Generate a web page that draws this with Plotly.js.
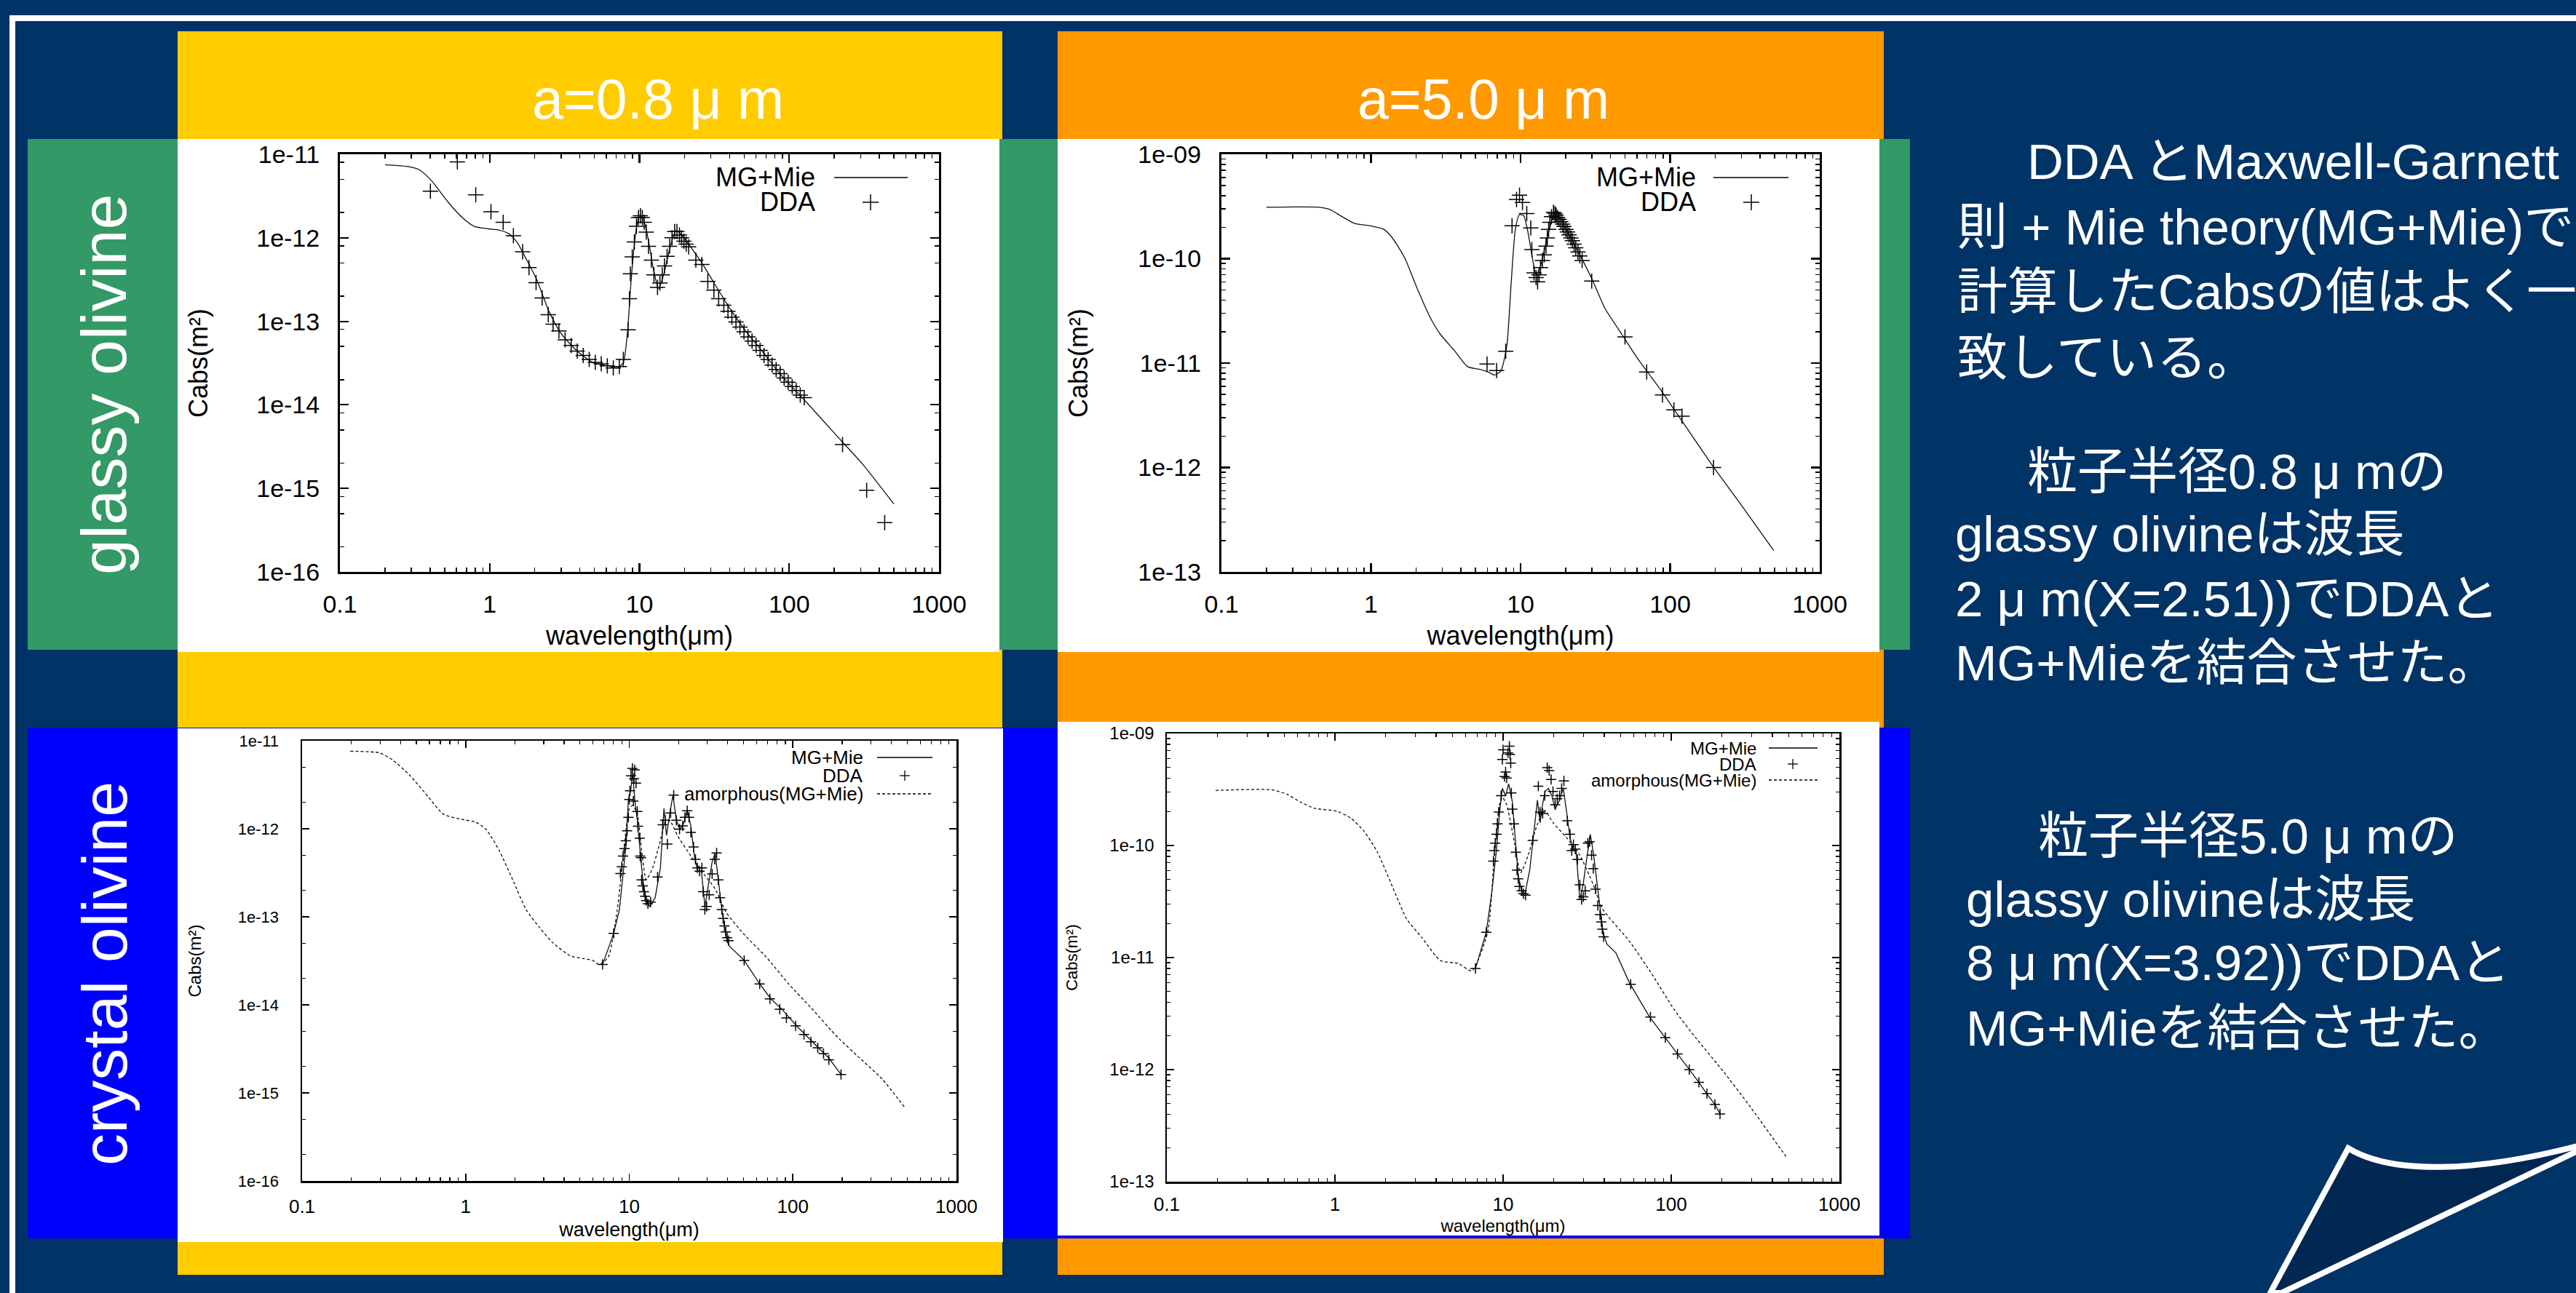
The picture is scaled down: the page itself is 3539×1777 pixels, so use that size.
<!DOCTYPE html>
<html><head><meta charset="utf-8">
<script src="https://cdn.plot.ly/plotly-3.0.1.min.js"></script>
<style>html,body{margin:0;padding:0;background:#003366;overflow:hidden}</style>
</head><body><div id="chart" style="width:3539px;height:1777px"></div>
<script>
// ---------- tick labels ----------
const xMajorVals = [0.1, 1, 10, 100, 1000];
const xMajorText = ['0.1', '1', '10', '100', '1000'];
const xMinorVals = [0.2,0.3,0.4,0.5,0.6,0.7,0.8,0.9,2,3,4,5,6,7,8,9,20,30,40,50,60,70,80,90,200,300,400,500,600,700,800,900];
const yMajorVals16 = [1e-16, 1e-15, 1e-14, 1e-13, 1e-12, 1e-11];
const yMajorText16 = ['1e-16', '1e-15', '1e-14', '1e-13', '1e-12', '1e-11'];
const yMajorVals13 = [1e-13, 1e-12, 1e-11, 1e-10, 1e-9];
const yMajorText13 = ['1e-13', '1e-12', '1e-11', '1e-10', '1e-09'];
const yMinorP1 = [2e-16,5e-16,8e-16,2e-15,5e-15,8e-15,2e-14,5e-14,8e-14,2e-13,5e-13,8e-13,2e-12,5e-12,8e-12];
const yMinorP3 = [2e-16,5e-16,2e-15,5e-15,2e-14,5e-14,2e-13,5e-13,2e-12,5e-12];
const yMinor13 = [2e-13,3e-13,4e-13,5e-13,6e-13,7e-13,8e-13,9e-13,2e-12,3e-12,4e-12,5e-12,6e-12,7e-12,8e-12,9e-12,2e-11,3e-11,4e-11,5e-11,6e-11,7e-11,8e-11,9e-11,2e-10,3e-10,4e-10,5e-10,6e-10,7e-10,8e-10,9e-10];
const xTitle = 'wavelength(\u03bcm)';
const yTitle = 'Cabs(m\u00b2)';

// ---------- glassy olivine, a = 0.8 um ----------
const g08MieWl = [0.2,0.29,0.34,0.41,0.53,0.66,0.79,0.98,1.15,1.34,1.52,1.77,2.07,2.49,3.0,3.84,4.9,6.3,7.1,7.8,8.3,8.8,9.4,10.0,10.6,11.3,12.4,13.4,14.5,15.9,17.5,19.1,21.7,26.1,31.4,40.2,51.4,65.9,89.7,130,200,309,500];
const g08MieC = [7.5e-12,7.1e-12,6.5e-12,4.8e-12,2.65e-12,1.73e-12,1.37e-12,1.28e-12,1.24e-12,1.12e-12,8.9e-13,5.4e-13,3.1e-13,1.31e-13,7.1e-14,4.4e-14,3.2e-14,2.9e-14,2.76e-14,3.2e-14,7.1e-14,3.1e-13,1.08e-12,1.84e-12,1.66e-12,1.08e-12,4.2e-13,2.45e-13,3.6e-13,7.3e-13,1.22e-12,1.08e-12,8.0e-13,5.0e-13,2.9e-13,1.42e-13,7.6e-14,4.4e-14,2.2e-14,1.08e-14,4.6e-15,1.95e-15,6.5e-16];
const g08DdaWl = [0.402,0.608,0.807,1.02,1.23,1.44,1.66,1.83,2.04,2.24,2.46,2.65,2.90,3.19,3.50,3.84,4.21,4.62,5.07,5.56,6.10,6.69,7.34,7.81,8.4,8.57,8.7,8.95,9.25,9.55,9.85,10.15,10.45,10.75,11.1,11.5,12.0,12.5,13.2,13.7,14.2,14.7,15.3,15.9,16.5,17.2,17.8,18.5,19.1,19.8,20.5,21.3,23.8,26.1,28.6,31.4,33.8,36.6,39.0,41.4,44.1,46.9,49.9,53.1,56.5,60.1,63.9,67.9,72.3,76.9,81.8,87.0,92.5,98.4,104.7,111.4,118.5,126,227,329,434];
const g08DdaC = [3.62e-12,8.1e-12,3.27e-12,2.05e-12,1.53e-12,1.06e-12,6.8e-13,4.4e-13,2.9e-13,1.9e-13,1.2e-13,9.25e-14,7.7e-14,6.0e-14,5.15e-14,4.4e-14,3.9e-14,3.5e-14,3.23e-14,3.1e-14,2.94e-14,2.76e-14,2.87e-14,3.5e-14,7.9e-14,1.87e-13,3.7e-13,5.9e-13,8.9e-13,1.37e-12,1.75e-12,1.84e-12,1.75e-12,1.53e-12,1.17e-12,7.9e-13,5.4e-13,3.6e-13,2.55e-13,2.87e-13,3.6e-13,4.6e-13,6.0e-13,7.9e-13,1.0e-12,1.19e-12,1.19e-12,1.08e-12,1.0e-12,9.1e-13,8.4e-13,7.8e-13,5.4e-13,4.8e-13,3.0e-13,2.36e-13,1.87e-13,1.56e-13,1.32e-13,1.12e-13,9.8e-14,8.55e-14,7.5e-14,6.5e-14,5.8e-14,5.15e-14,4.5e-14,3.9e-14,3.5e-14,3.0e-14,2.65e-14,2.36e-14,2.1e-14,1.87e-14,1.66e-14,1.48e-14,1.31e-14,1.22e-14,3.35e-15,9.5e-16,3.9e-16];

// ---------- glassy olivine, a = 5.0 um ----------
const g50MieWl = [0.2,0.45,0.53,0.64,0.78,1.0,1.22,1.39,1.68,2.04,2.48,2.9,3.64,4.42,5.35,6.08,6.7,7.38,8.1,8.65,9.23,9.84,10.5,11.2,11.9,12.7,13.6,14.9,16.4,17.2,18.3,20.6,24.9,30.3,36.7,47.4,61.3,84.5,116,195,305,493];
const g50MieC = [3.11e-10,3.11e-10,2.96e-10,2.53e-10,2.17e-10,2.06e-10,1.91e-10,1.58e-10,1.02e-10,5.15e-11,2.76e-11,1.9e-11,1.3e-11,9.25e-12,8.7e-12,8.2e-12,7.7e-12,8.4e-12,1.48e-11,5.8e-11,1.91e-10,2.64e-10,2.58e-10,1.8e-10,1.09e-10,7.0e-11,8.5e-11,1.49e-10,2.45e-10,2.87e-10,2.45e-10,1.8e-10,1.09e-10,6.2e-11,3.33e-11,1.9e-11,1.08e-11,5.8e-12,3.0e-12,1.01e-12,4.2e-13,1.6e-13];
const g50DdaWl = [5.97,6.92,7.96,8.77,9.4,9.84,10.3,11.0,11.7,11.9,12.3,12.7,13.0,13.3,13.6,14.0,14.4,14.8,15.1,15.4,15.7,16.1,16.6,17.0,17.3,17.7,18.1,18.6,19.1,19.5,20.1,20.6,21.1,21.7,22.2,22.8,23.4,24.2,24.9,25.8,29.9,49.9,69.7,88.9,106,120,195];
const g50DdaC = [9.8e-12,8.5e-12,1.3e-11,2.07e-10,3.68e-10,4.05e-10,3.46e-10,2.7e-10,1.97e-10,1.22e-10,7.3e-11,6.6e-11,6.0e-11,7.0e-11,8.2e-11,9.6e-11,1.09e-10,1.32e-10,1.58e-10,1.91e-10,2.23e-10,2.53e-10,2.78e-10,2.7e-10,2.61e-10,2.48e-10,2.38e-10,2.26e-10,2.14e-10,2.03e-10,1.91e-10,1.8e-10,1.69e-10,1.58e-10,1.49e-10,1.38e-10,1.27e-10,1.16e-10,1.06e-10,9.6e-11,6.1e-11,1.78e-11,8.2e-12,4.95e-12,3.56e-12,3.1e-12,1.0e-12];

// ---------- crystal olivine, a = 0.8 um ----------
const c08AmoWl = [0.197,0.296,0.356,0.458,0.589,0.733,0.988,1.14,1.33,1.6,1.94,2.34,2.82,3.4,4.37,5.27,5.98,6.57,7.45,8.45,9.27,10.0,10.5,11.2,11.9,12.7,13.9,15.3,16.8,17.9,19.7,23.8,28.5,33.5,39.2,50.4,68.9,94.2,129,188,257,351,481];
const c08AmoC = [7.6e-12,7.3e-12,6.1e-12,4.0e-12,2.32e-12,1.46e-12,1.26e-12,1.2e-12,9.9e-13,5.7e-13,2.63e-13,1.21e-13,7.6e-14,5.1e-14,3.6e-14,3.35e-14,3.2e-14,2.87e-14,3.5e-14,1.21e-13,5.7e-13,1.7e-12,1.84e-12,1.46e-12,5.7e-13,2.63e-13,3.6e-13,6.7e-13,1.25e-12,1.2e-12,8.4e-13,4.9e-13,3.07e-13,2.08e-13,1.12e-13,6.3e-14,3.48e-14,1.73e-14,9.3e-15,4.27e-15,2.48e-15,1.44e-15,6.9e-16];
const c08MieWl = [6.87,8.03,8.71,9.16,9.57,9.88,10.2,10.5,10.8,11.2,11.6,12.1,12.7,13.3,14.4,15.5,16.3,16.9,17.9,18.5,19.4,20.4,21.5,22.6,23.8,25.0,26.2,27.6,29.0,30.5,32.1,33.5,35.0,36.8,38.7,40.5,50.4,62.7,73.4,85.8,107,129,166,197];
const c08MieC = [2.87e-14,6.5e-14,1.21e-13,3.07e-13,6.7e-13,2.15e-12,2.71e-12,4.3e-12,2.15e-12,1.25e-12,5.7e-13,2.63e-13,1.53e-13,1.31e-13,1.65e-13,3.6e-13,1.7e-12,8.4e-13,1.7e-12,2.41e-12,1.25e-12,9.9e-13,1.15e-12,1.63e-12,1.07e-12,4.9e-13,3.3e-13,3.3e-13,1.31e-13,2.25e-13,4.2e-13,5.3e-13,2.63e-13,1.21e-13,6.5e-14,4.75e-14,3.2e-14,1.73e-14,1.17e-14,8.9e-15,5.6e-15,3.95e-15,2.48e-15,1.62e-15];
const c08DdaWl = [6.87,8.03,8.83,9.0,9.16,9.35,9.53,9.7,9.88,10.0,10.1,10.25,10.45,10.6,10.7,10.8,11.0,11.2,11.3,11.6,11.65,11.8,11.9,12.1,12.3,12.5,12.7,13.0,13.5,14.9,16.0,16.6,17.1,17.9,18.7,19.4,20.3,21.2,21.9,22.6,23.2,23.8,24.7,25.4,26.1,26.9,27.8,28.3,29.0,29.7,30.8,32.1,33.3,34.2,35.0,35.9,36.8,37.5,38.2,38.9,39.7,40.5,50.4,62.7,72.4,83.2,91.3,104,117,129,142,154,166,197];
const c08DdaC = [2.87e-14,6.5e-14,3.1e-13,3.7e-13,4.9e-13,5.95e-13,7.3e-13,9.5e-13,1.35e-12,2.15e-12,2.7e-12,4.0e-12,4.85e-12,2.06e-12,3.7e-12,4.67e-12,3.3e-12,1.57e-12,1.07e-12,7.8e-13,4.9e-13,4.7e-13,2.63e-13,2.25e-13,1.93e-13,1.71e-13,1.53e-13,1.41e-13,1.47e-13,2.84e-13,1.11e-12,1.25e-12,6.7e-13,1.51e-12,2.41e-12,1.25e-12,9.9e-13,1.08e-12,1.35e-12,1.6e-12,1.35e-12,9.1e-13,6.2e-13,4.5e-13,3.6e-13,3.3e-13,3.6e-13,1.93e-13,1.21e-13,1.31e-13,1.78e-13,3.07e-13,4.5e-13,5.3e-13,2.63e-13,1.65e-13,1.21e-13,9.6e-14,7.9e-14,6.75e-14,5.8e-14,5.35e-14,3.2e-14,1.73e-14,1.17e-14,8.9e-15,7.1e-15,5.8e-15,4.6e-15,3.8e-15,3.25e-15,2.79e-15,2.38e-15,1.62e-15];

// ---------- crystal olivine, a = 5.0 um ----------
const c50AmoWl = [0.195,0.42,0.52,0.627,0.755,1.03,1.24,1.49,1.79,2.29,2.67,3.31,4.24,5.42,6.52,8.09,8.87,9.44,9.9,10.5,11.7,12.7,14.1,15.9,17.7,19.8,23.8,28.6,34.4,38.9,56.4,76.6,104,142,205,297,481];
const c50AmoC = [3.1e-10,3.14e-10,2.86e-10,2.43e-10,2.15e-10,2.02e-10,1.76e-10,1.34e-10,8.7e-11,3.7e-11,2.21e-11,1.49e-11,9.4e-12,8.85e-12,7.6e-12,1.68e-11,8.2e-11,2.18e-10,2.69e-10,2.31e-10,1.05e-10,5.7e-11,8.2e-11,1.51e-10,2.05e-10,1.6e-10,1.18e-10,8.2e-11,4.46e-11,2.74e-11,1.4e-11,7.15e-12,3.44e-12,1.87e-12,9.55e-13,4.6e-13,1.68e-13];
const c50MieWl = [6.85,7.94,8.59,9.14,9.55,9.9,10.35,10.8,11.35,11.9,12.3,12.9,13.5,14.4,15.5,16.0,16.6,17.2,17.8,18.6,19.5,20.4,21.4,22.8,23.8,25.0,26.1,27.2,28.6,29.9,31.3,33.0,34.4,36.1,37.7,39.3,41.4,46.9,56.4,74.3,92.2,109,128,146,163,182,195];
const c50MieC = [7.98e-12,1.68e-11,3.94e-11,9.27e-11,2.05e-10,3.24e-10,2.78e-10,3.55e-10,2.46e-10,1.05e-10,5.35e-11,3.94e-11,3.71e-11,6.04e-11,1.6e-10,2.54e-10,1.6e-10,2.38e-10,3.04e-10,3.24e-10,2.78e-10,2.11e-10,2.43e-10,3.24e-10,2.05e-10,1.18e-10,9.27e-11,8.7e-11,3.29e-11,4.46e-11,7.26e-11,1.26e-10,8.7e-11,4.73e-11,2.74e-11,1.68e-11,1.32e-11,1.1e-11,5.96e-12,2.95e-12,1.93e-12,1.38e-12,1.0e-12,7.7e-13,6.04e-13,4.89e-13,4.02e-13];
const c50DdaWl = [6.85,7.94,8.76,8.87,8.98,9.14,9.26,9.44,9.73,9.9,10.0,10.2,10.35,10.5,10.7,10.9,11.0,11.1,11.2,11.35,11.6,11.9,12.1,12.3,12.5,12.9,13.2,13.6,15.0,16.2,16.6,17.2,17.7,18.3,18.8,19.3,19.8,20.4,21.0,21.7,22.3,23.0,24.1,25.0,25.6,26.2,26.9,27.7,28.6,29.3,30.0,30.8,31.9,32.7,33.6,34.4,35.5,36.6,37.7,38.4,38.9,39.6,57.4,75.2,92.2,109,128,146,163,182,195];
const c50DdaC = [7.98e-12,1.68e-11,7.26e-11,9.0e-11,1.05e-10,1.26e-10,1.56e-10,1.99e-10,2.78e-10,5.85e-10,7.15e-10,4.13e-10,4.53e-10,4.0e-10,6.7e-10,7.7e-10,6.5e-10,5.43e-10,2.95e-10,2.11e-10,1.56e-10,8.7e-11,6.04e-11,5.04e-11,4.32e-11,3.94e-11,3.71e-11,3.6e-11,1.11e-10,3.38e-10,1.99e-10,1.93e-10,2.78e-10,4.96e-10,4.67e-10,3.88e-10,3.04e-10,2.31e-10,2.61e-10,2.78e-10,3.24e-10,3.77e-10,1.66e-10,1.26e-10,9.0e-11,1.02e-10,9.27e-11,7.5e-11,4.46e-11,3.29e-11,3.49e-11,3.94e-11,1.05e-10,1.08e-10,8.2e-11,6.23e-11,4.07e-11,2.91e-11,2.42e-11,2.08e-11,1.79e-11,1.53e-11,5.78e-12,2.95e-12,1.93e-12,1.38e-12,1.0e-12,7.7e-13,6.1e-13,4.89e-13,4.02e-13];

// ---------- texts ----------
const colTitles = ['a=0.8 \u03bc m', 'a=5.0 \u03bc m'];
const rowTitles = ['glassy olivine', 'crystal olivine'];
const noteLines = [
  'DDA\u2009\u3068Maxwell-Garnett',
  '\u5247 + Mie theory(MG+Mie)\u3067',
  '\u8a08\u7b97\u3057\u305fCabs\u306e\u5024\u306f\u3088\u304f\u4e00',
  '\u81f4\u3057\u3066\u3044\u308b\u3002',
  '\u7c92\u5b50\u534a\u5f840.8 \u03bc m\u306e',
  'glassy olivine\u306f\u6ce2\u9577',
  '2 \u03bc m(X=2.51))\u3067DDA\u3068',
  'MG+Mie\u3092\u7d50\u5408\u3055\u305b\u305f\u3002',
  '\u7c92\u5b50\u534a\u5f845.0 \u03bc m\u306e',
  'glassy olivine\u306f\u6ce2\u9577',
  '8 \u03bc m(X=3.92))\u3067DDA\u3068',
  'MG+Mie\u3092\u7d50\u5408\u3055\u305b\u305f\u3002'
];

// ---------- layout helpers ----------
const W = 3539, H = 1777;
const FONT = 'Liberation Sans, Arial, Helvetica, sans-serif';
const JFONT = 'Liberation Sans, Noto Sans CJK JP, sans-serif';
function px(x) { return x / W; }
function py(y) { return 1 - y / H; }

function xAx(x0, x1, anchor, fs, standoff, tl, lw, tfs, tstand) {
  return {
    domain: [px(x0), px(x1)], anchor: anchor, type: 'log', range: [-1, 3],
    tickmode: 'array', tickvals: xMajorVals, ticktext: xMajorText,
    ticks: 'inside', ticklen: tl, tickwidth: lw * 0.7, tickcolor: '#000',
    showline: true, linecolor: '#000', linewidth: lw, mirror: 'allticks',
    showgrid: false, zeroline: false, fixedrange: true, automargin: false,
    tickfont: { family: FONT, size: fs, color: '#000' }, ticklabelstandoff: standoff,
    title: { text: xTitle, font: { family: FONT, size: tfs, color: '#000' }, standoff: tstand },
    minor: { tickmode: 'array', tickvals: xMinorVals, ticks: 'inside', ticklen: tl / 2, tickwidth: lw * 0.5, tickcolor: '#000', showgrid: false }
  };
}
function yAx(y0, y1, anchor, rng, vals, text, minor, fs, standoff, tl, lw, tfs, tstand) {
  return {
    domain: [py(y1), py(y0)], anchor: anchor, type: 'log', range: rng,
    tickmode: 'array', tickvals: vals, ticktext: text,
    ticks: 'inside', ticklen: tl, tickwidth: lw * 0.7, tickcolor: '#000',
    showline: true, linecolor: '#000', linewidth: lw, mirror: 'allticks',
    showgrid: false, zeroline: false, fixedrange: true, automargin: false,
    tickfont: { family: FONT, size: fs, color: '#000' }, ticklabelstandoff: standoff,
    title: { text: yTitle, font: { family: FONT, size: tfs, color: '#000' }, standoff: tstand },
    minor: { tickmode: 'array', tickvals: minor, ticks: 'inside', ticklen: tl / 2, tickwidth: lw * 0.5, tickcolor: '#000', showgrid: false }
  };
}
function rect(x0, y0, x1, y1, color) {
  return { type: 'rect', xref: 'paper', yref: 'paper', x0: px(x0), x1: px(x1), y0: py(y1), y1: py(y0),
    fillcolor: color, line: { width: 0 }, layer: 'below' };
}
function seg(x0, y0, x1, y1, w, dash) {
  return { type: 'line', xref: 'paper', yref: 'paper', x0: px(x0), x1: px(x1), y0: py(y0), y1: py(y1),
    line: { color: '#000', width: w, dash: dash || 'solid' }, layer: 'above' };
}
function cross(x, y, half, w) { return [seg(x - half, y, x + half, y, w), seg(x, y - half, x, y + half, w)]; }
function ann(text, x, y, size, color, opts) {
  return Object.assign({ text: text, x: px(x), y: py(y), xref: 'paper', yref: 'paper', showarrow: false,
    xanchor: 'center', yanchor: 'middle', font: { family: FONT, size: size, color: color } }, opts || {});
}

// ---------- traces ----------
function lineTrace(x, y, xa, ya, dash, shape) {
  return { type: 'scatter', mode: 'lines', x: x, y: y, xaxis: xa, yaxis: ya, hoverinfo: 'skip',
    line: { color: '#111', width: 1.3, dash: dash || 'solid', shape: shape || 'linear', smoothing: 0.6 } };
}
function ddaTrace(x, y, xa, ya, size) {
  return { type: 'scatter', mode: 'markers', x: x, y: y, xaxis: xa, yaxis: ya, hoverinfo: 'skip',
    marker: { symbol: 'cross-thin-open', size: size, color: '#000', line: { color: '#000', width: 1.5 } } };
}
const DASH = '4px,3px';
const traces = [
  lineTrace(g08MieWl, g08MieC, 'x', 'y', 'solid', 'spline'),
  ddaTrace(g08DdaWl, g08DdaC, 'x', 'y', 15),
  lineTrace(g50MieWl, g50MieC, 'x2', 'y2', 'solid', 'spline'),
  ddaTrace(g50DdaWl, g50DdaC, 'x2', 'y2', 15),
  lineTrace(c08AmoWl, c08AmoC, 'x3', 'y3', DASH, 'spline'),
  lineTrace(c08MieWl, c08MieC, 'x3', 'y3', 'solid', 'linear'),
  ddaTrace(c08DdaWl, c08DdaC, 'x3', 'y3', 10),
  lineTrace(c50AmoWl, c50AmoC, 'x4', 'y4', DASH, 'spline'),
  lineTrace(c50MieWl, c50MieC, 'x4', 'y4', 'solid', 'linear'),
  ddaTrace(c50DdaWl, c50DdaC, 'x4', 'y4', 10)
];

// ---------- background panels ----------
const shapes = [
  rect(13, 21, W, 29, '#ffffff'),
  rect(13, 21, 21, H, '#ffffff'),
  rect(244, 43, 1377, 1752, '#ffcc00'),
  rect(1453, 43, 2588, 1752, '#ff9900'),
  rect(38, 191, 2624, 893, '#339966'),
  rect(38, 1000, 2624, 1702, '#0000ff'),
  rect(244, 191, 1373, 896, '#ffffff'),
  rect(1453, 191, 2582, 896, '#ffffff'),
  rect(244, 1001, 1378, 1707, '#ffffff'),
  rect(1453, 992, 2582, 1698, '#ffffff'),
  { type: 'path', xref: 'paper', yref: 'paper', layer: 'below',
    path: 'M' + px(3119) + ',' + py(1777) + ' L' + px(3226) + ',' + py(1578) +
          ' C' + px(3285) + ',' + py(1614) + ' ' + px(3400) + ',' + py(1612) + ' ' + px(3545) + ',' + py(1574) +
          ' L' + px(3545) + ',' + py(1580) + ' L' + px(3134) + ',' + py(1777) + ' Z',
    fillcolor: '#002852', line: { color: '#ffffff', width: 8 } }
];
// legends (gnuplot style, key on the right)
shapes.push(seg(1146, 244, 1247, 244, 1.3));
shapes.push(...cross(1196, 278, 11, 1.5));
shapes.push(seg(2354, 244, 2457, 244, 1.3));
shapes.push(...cross(2406, 278, 11, 1.5));
shapes.push(seg(1205, 1041, 1281, 1041, 1.3));
shapes.push(...cross(1243, 1066, 7, 1.3));
shapes.push(seg(1205, 1091, 1281, 1091, 1.3, DASH));
shapes.push(seg(2430, 1028, 2497, 1028, 1.3));
shapes.push(...cross(2463, 1050, 7, 1.3));
shapes.push(seg(2430, 1072, 2497, 1072, 1.3, DASH));

const annotations = [
  ann(colTitles[0], 904, 136, 77, '#ffffff'),
  ann(colTitles[1], 2038, 136, 77, '#ffffff'),
  ann(rowTitles[0], 143, 529, 88, '#ffffff', { textangle: -90 }),
  ann(rowTitles[1], 143, 1338, 88, '#ffffff', { textangle: -90 }),
  // legend labels
  ann('MG+Mie', 1122, 244, 36, '#000', { xanchor: 'right' }),
  ann('DDA', 1122, 278, 36, '#000', { xanchor: 'right' }),
  ann('MG+Mie', 2332, 244, 36, '#000', { xanchor: 'right' }),
  ann('DDA', 2332, 278, 36, '#000', { xanchor: 'right' }),
  ann('MG+Mie', 1188, 1041, 26, '#000', { xanchor: 'right' }),
  ann('DDA', 1188, 1066, 26, '#000', { xanchor: 'right' }),
  ann('amorphous(MG+Mie)', 1188, 1091, 26, '#000', { xanchor: 'right' }),
  ann('MG+Mie', 2415, 1028, 24, '#000', { xanchor: 'right' }),
  ann('DDA', 2415, 1050, 24, '#000', { xanchor: 'right' }),
  ann('amorphous(MG+Mie)', 2415, 1072, 24, '#000', { xanchor: 'right' })
];
// right-hand notes
const noteX = [2783, 2687, 2687, 2687, 2783, 2684, 2684, 2684, 2798, 2699, 2699, 2699];
const noteY = [222, 312, 401, 492, 648, 734, 823, 912, 1149, 1236, 1323, 1413];
noteLines.forEach(function (t, i) {
  annotations.push(ann(t, noteX[i], noteY[i], 69, '#ffffff', { xanchor: 'left', font: { family: JFONT, size: 69, color: '#ffffff' } }));
});

const layout = {
  width: W, height: H, margin: { l: 0, r: 0, t: 0, b: 0 }, autosize: false,
  paper_bgcolor: '#003366', plot_bgcolor: '#ffffff', showlegend: false,
  font: { family: FONT },
  xaxis: xAx(467, 1290, 'y', 34, 12, 12, 3, 36, 14),
  yaxis: yAx(212, 786, 'x', [-16, -11], yMajorVals16, yMajorText16, yMinorP1, 34, 18, 12, 3, 36, 56),
  xaxis2: xAx(1678, 2500, 'y2', 34, 12, 12, 3, 36, 14),
  yaxis2: yAx(212, 786, 'x2', [-13, -9], yMajorVals13, yMajorText13, yMinor13, 34, 18, 12, 3, 36, 58),
  xaxis3: xAx(415, 1314, 'y3', 26, 10, 10, 2.5, 27, 9),
  yaxis3: yAx(1018, 1623, 'x3', [-16, -11], yMajorVals16, yMajorText16, yMinorP3, 22, 25, 10, 2.5, 24, 44),
  xaxis4: xAx(1603, 2527, 'y4', 26, 6, 10, 2.5, 24, 8),
  yaxis4: yAx(1008, 1624, 'x4', [-13, -9], yMajorVals13, yMajorText13, yMinor13, 24, 10, 10, 2.5, 22, 38),
  shapes: shapes, annotations: annotations
};

Plotly.newPlot('chart', traces, layout, { displayModeBar: false, staticPlot: true });
</script></body></html>
